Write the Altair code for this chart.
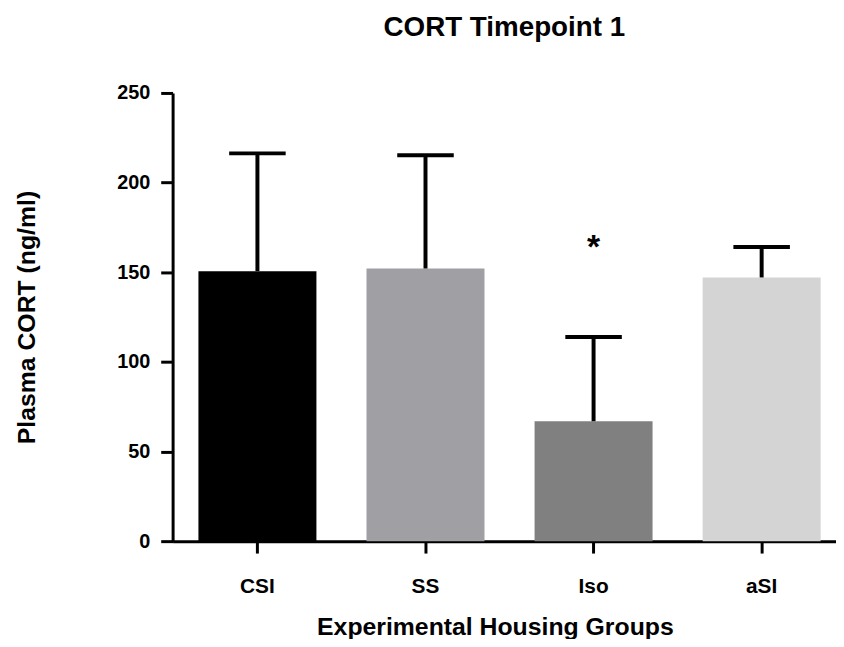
import altair as alt
import pandas as pd

groups = ["CSI", "SS", "Iso", "aSI"]
means = [150.6, 152.1, 66.9, 147.1]
upper = [216.3, 215.3, 113.9, 164.1]
colors = ["#000000", "#a09fa4", "#808080", "#d4d4d4"]
sig_group = ["Iso"]
sig_label = ["*"]
sig_y = [158]

df = pd.DataFrame({"group": groups, "mean": means, "upper": upper})
sig = pd.DataFrame({"group": sig_group, "label": sig_label, "y": sig_y})

FONT = "Liberation Sans"

xscale = alt.Scale(domain=groups, paddingInner=0.298, paddingOuter=0.1225, align=0.627)
yscale = alt.Scale(domain=[0, 250], nice=False, zero=True)

x_enc = alt.X("group:N", scale=xscale, sort=groups,
              axis=alt.Axis(title="Experimental Housing Groups", labelAngle=0,
                            domainWidth=3, domainColor="black", tickWidth=3, tickColor="black",
                            tickSize=12, labelPadding=23, labelFontSize=21, labelFont=FONT,
                            labelFontWeight="bold", labelColor="black",
                            titleFontSize=25, titleFont=FONT, titleFontWeight="bold", titleColor="black",
                            titleX=325, titleY=94, titleBaseline="alphabetic",
                            grid=False))

bars = alt.Chart(df).mark_bar().encode(
    x=x_enc,
    y=alt.Y("mean:Q", scale=yscale,
            axis=alt.Axis(title="Plasma CORT (ng/ml)", values=[0, 50, 100, 150, 200, 250],
                          domainWidth=3, domainColor="black", tickWidth=3, tickColor="black",
                          tickSize=12, labelPadding=11, labelFontSize=20, labelFont=FONT,
                          labelFontWeight="bold", labelColor="black",
                          titleFontSize=25, titleFont=FONT, titleFontWeight="bold", titleColor="black",
                          titleX=-147, titleY=226, titleAngle=-90, titleBaseline="middle",
                          titleAlign="center", grid=False)),
    color=alt.Color("group:N", scale=alt.Scale(domain=groups, range=colors), legend=None),
)

err = alt.Chart(df).mark_rule(color="black", strokeWidth=4).encode(
    x=alt.X("group:N", scale=xscale, sort=groups),
    y=alt.Y("mean:Q", scale=yscale),
    y2="upper:Q",
)

cap = alt.Chart(df).mark_tick(color="black", size=57, thickness=4, opacity=1).encode(
    x=alt.X("group:N", scale=xscale, sort=groups),
    y=alt.Y("upper:Q", scale=yscale),
)

star = alt.Chart(sig).mark_text(fontSize=34, font=FONT, fontWeight="bold", color="black",
                                baseline="alphabetic").encode(
    x=alt.X("group:N", scale=xscale, sort=groups),
    y=alt.Y("y:Q", scale=yscale),
    text="label:N",
)

chart = alt.layer(bars, err, cap, star).properties(
    width=669, height=452,
    background="white",
    title=alt.TitleParams("CORT Timepoint 1", fontSize=28, font=FONT, fontWeight="bold",
                          color="black", anchor="middle", offset=41),
    autosize=alt.AutoSizeParams(type="none"),
    padding={"left": 166, "top": 83, "right": 0, "bottom": 96},
).configure_view(stroke=None)

chart.save("out.html", embed_options={"renderer": "svg", "actions": False})
